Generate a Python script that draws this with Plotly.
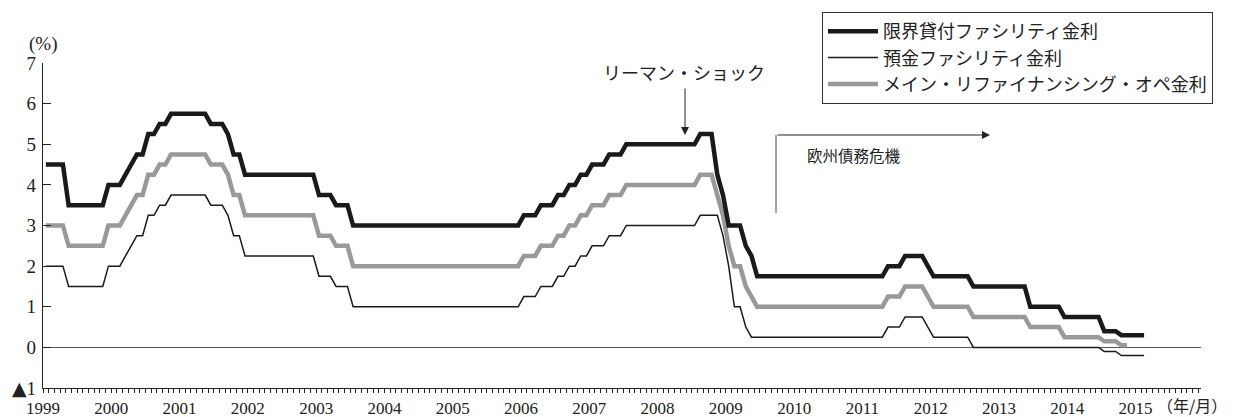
import plotly.graph_objects as go

# ---- data (monthly, Jan 1999 onward; value in effect at start of month) ----
years = ["1999", "2000", "2001", "2002", "2003", "2004", "2005", "2006", "2007",
         "2008", "2009", "2010", "2011", "2012", "2013", "2014", "2015"]

mlf = [  # 限界貸付ファシリティ金利
    4.5, 4.5, 4.5, 4.5, 3.5, 3.5, 3.5, 3.5, 3.5, 3.5, 3.5, 4.0,          # 1999
    4.0, 4.0, 4.25, 4.5, 4.75, 4.75, 5.25, 5.25, 5.5, 5.5, 5.75, 5.75,   # 2000
    5.75, 5.75, 5.75, 5.75, 5.75, 5.5, 5.5, 5.5, 5.25, 4.75, 4.75, 4.25, # 2001
    4.25, 4.25, 4.25, 4.25, 4.25, 4.25, 4.25, 4.25, 4.25, 4.25, 4.25, 4.25,  # 2002
    3.75, 3.75, 3.75, 3.5, 3.5, 3.5, 3.0, 3.0, 3.0, 3.0, 3.0, 3.0,       # 2003
    3.0, 3.0, 3.0, 3.0, 3.0, 3.0, 3.0, 3.0, 3.0, 3.0, 3.0, 3.0,          # 2004
    3.0, 3.0, 3.0, 3.0, 3.0, 3.0, 3.0, 3.0, 3.0, 3.0, 3.0, 3.0,          # 2005
    3.25, 3.25, 3.25, 3.5, 3.5, 3.5, 3.75, 3.75, 4.0, 4.0, 4.25, 4.25,   # 2006
    4.5, 4.5, 4.5, 4.75, 4.75, 4.75, 5.0, 5.0, 5.0, 5.0, 5.0, 5.0,       # 2007
    5.0, 5.0, 5.0, 5.0, 5.0, 5.0, 5.0, 5.25, 5.25, 5.25, 4.25, 3.75,     # 2008
    3.0, 3.0, 3.0, 2.5, 2.25, 1.75, 1.75, 1.75, 1.75, 1.75, 1.75, 1.75,  # 2009
    1.75, 1.75, 1.75, 1.75, 1.75, 1.75, 1.75, 1.75, 1.75, 1.75, 1.75, 1.75,  # 2010
    1.75, 1.75, 1.75, 1.75, 2.0, 2.0, 2.0, 2.25, 2.25, 2.25, 2.25, 2.0,  # 2011
    1.75, 1.75, 1.75, 1.75, 1.75, 1.75, 1.75, 1.5, 1.5, 1.5, 1.5, 1.5,   # 2012
    1.5, 1.5, 1.5, 1.5, 1.5, 1.0, 1.0, 1.0, 1.0, 1.0, 1.0, 0.75,         # 2013
    0.75, 0.75, 0.75, 0.75, 0.75, 0.75, 0.4, 0.4, 0.4, 0.3, 0.3, 0.3,    # 2014
    0.3, 0.3,                                                            # 2015
]

df_rate = [  # 預金ファシリティ金利
    2.0, 2.0, 2.0, 2.0, 1.5, 1.5, 1.5, 1.5, 1.5, 1.5, 1.5, 2.0,          # 1999
    2.0, 2.0, 2.25, 2.5, 2.75, 2.75, 3.25, 3.25, 3.5, 3.5, 3.75, 3.75,   # 2000
    3.75, 3.75, 3.75, 3.75, 3.75, 3.5, 3.5, 3.5, 3.25, 2.75, 2.75, 2.25, # 2001
    2.25, 2.25, 2.25, 2.25, 2.25, 2.25, 2.25, 2.25, 2.25, 2.25, 2.25, 2.25,  # 2002
    1.75, 1.75, 1.75, 1.5, 1.5, 1.5, 1.0, 1.0, 1.0, 1.0, 1.0, 1.0,       # 2003
    1.0, 1.0, 1.0, 1.0, 1.0, 1.0, 1.0, 1.0, 1.0, 1.0, 1.0, 1.0,          # 2004
    1.0, 1.0, 1.0, 1.0, 1.0, 1.0, 1.0, 1.0, 1.0, 1.0, 1.0, 1.0,          # 2005
    1.25, 1.25, 1.25, 1.5, 1.5, 1.5, 1.75, 1.75, 2.0, 2.0, 2.25, 2.25,   # 2006
    2.5, 2.5, 2.5, 2.75, 2.75, 2.75, 3.0, 3.0, 3.0, 3.0, 3.0, 3.0,       # 2007
    3.0, 3.0, 3.0, 3.0, 3.0, 3.0, 3.0, 3.25, 3.25, 3.25, 3.25, 2.75,     # 2008
    2.0, 1.0, 1.0, 0.5, 0.25, 0.25, 0.25, 0.25, 0.25, 0.25, 0.25, 0.25,  # 2009
    0.25, 0.25, 0.25, 0.25, 0.25, 0.25, 0.25, 0.25, 0.25, 0.25, 0.25, 0.25,  # 2010
    0.25, 0.25, 0.25, 0.25, 0.5, 0.5, 0.5, 0.75, 0.75, 0.75, 0.75, 0.5,  # 2011
    0.25, 0.25, 0.25, 0.25, 0.25, 0.25, 0.25, 0.0, 0.0, 0.0, 0.0, 0.0,   # 2012
    0.0, 0.0, 0.0, 0.0, 0.0, 0.0, 0.0, 0.0, 0.0, 0.0, 0.0, 0.0,          # 2013
    0.0, 0.0, 0.0, 0.0, 0.0, 0.0, -0.1, -0.1, -0.1, -0.2, -0.2, -0.2,    # 2014
    -0.2, -0.2,                                                          # 2015
]

mro = [  # メイン・リファイナンシング・オペ金利
    3.0, 3.0, 3.0, 3.0, 2.5, 2.5, 2.5, 2.5, 2.5, 2.5, 2.5, 3.0,          # 1999
    3.0, 3.0, 3.25, 3.5, 3.75, 3.75, 4.25, 4.25, 4.5, 4.5, 4.75, 4.75,   # 2000
    4.75, 4.75, 4.75, 4.75, 4.75, 4.5, 4.5, 4.5, 4.25, 3.75, 3.75, 3.25, # 2001
    3.25, 3.25, 3.25, 3.25, 3.25, 3.25, 3.25, 3.25, 3.25, 3.25, 3.25, 3.25,  # 2002
    2.75, 2.75, 2.75, 2.5, 2.5, 2.5, 2.0, 2.0, 2.0, 2.0, 2.0, 2.0,       # 2003
    2.0, 2.0, 2.0, 2.0, 2.0, 2.0, 2.0, 2.0, 2.0, 2.0, 2.0, 2.0,          # 2004
    2.0, 2.0, 2.0, 2.0, 2.0, 2.0, 2.0, 2.0, 2.0, 2.0, 2.0, 2.0,          # 2005
    2.25, 2.25, 2.25, 2.5, 2.5, 2.5, 2.75, 2.75, 3.0, 3.0, 3.25, 3.25,   # 2006
    3.5, 3.5, 3.5, 3.75, 3.75, 3.75, 4.0, 4.0, 4.0, 4.0, 4.0, 4.0,       # 2007
    4.0, 4.0, 4.0, 4.0, 4.0, 4.0, 4.0, 4.25, 4.25, 4.25, 3.75, 3.25,     # 2008
    2.5, 2.0, 2.0, 1.5, 1.25, 1.0, 1.0, 1.0, 1.0, 1.0, 1.0, 1.0,         # 2009
    1.0, 1.0, 1.0, 1.0, 1.0, 1.0, 1.0, 1.0, 1.0, 1.0, 1.0, 1.0,          # 2010
    1.0, 1.0, 1.0, 1.0, 1.25, 1.25, 1.25, 1.5, 1.5, 1.5, 1.5, 1.25,      # 2011
    1.0, 1.0, 1.0, 1.0, 1.0, 1.0, 1.0, 0.75, 0.75, 0.75, 0.75, 0.75,     # 2012
    0.75, 0.75, 0.75, 0.75, 0.75, 0.5, 0.5, 0.5, 0.5, 0.5, 0.5, 0.25,    # 2013
    0.25, 0.25, 0.25, 0.25, 0.25, 0.25, 0.15, 0.15, 0.15, 0.05, 0.05,    # 2014
]

names = ["限界貸付ファシリティ金利", "預金ファシリティ金利", "メイン・リファイナンシング・オペ金利"]
y_ticks = [-1, 0, 1, 2, 3, 4, 5, 6, 7]
y_ticktext = ["<span style=\"font-family:'DejaVu Sans';font-size:19px\">▲</span>1",
              "0", "1", "2", "3", "4", "5", "6", "7"]

# ---- figure ----
SERIF = "'Liberation Serif', 'DejaVu Serif', 'Noto Sans CJK JP', serif"
JP = "'Noto Sans CJK JP', sans-serif"
INK = "#222222"

def xs(series):
    return [i + 0.5 for i in range(len(series))]

fig = go.Figure()
fig.add_trace(go.Scatter(x=xs(mro), y=mro, mode="lines", name=names[2],
                         line=dict(color="#999999", width=4.5), legendrank=3))
fig.add_trace(go.Scatter(x=xs(mlf), y=mlf, mode="lines", name=names[0],
                         line=dict(color="#1a1a1a", width=4.5), legendrank=1))
fig.add_trace(go.Scatter(x=xs(df_rate), y=df_rate, mode="lines", name=names[1],
                         line=dict(color="#1a1a1a", width=1.5), legendrank=2))

# The page body adds an 8 px margin, so the figure is drawn 8 px smaller
# and all screen positions below are shifted by OFF.
OFF = 8
W, H = 1234 - OFF, 417 - OFF
L, T = 43 - OFF, 63 - OFF
R = W - (1201 - OFF)
B = H - (388 - OFF)
XMAX = 203.5
PW, PH = W - L - R, H - T - B

fig.update_layout(
    template="none",
    width=W, height=H,
    margin=dict(l=L, r=R, t=T, b=B, pad=0, autoexpand=False),
    paper_bgcolor="white", plot_bgcolor="white",
    font=dict(family=SERIF, size=17, color=INK),
    showlegend=True,
    legend=dict(
        x=(822 - OFF - L) / PW, y=1 + (T - (12 - OFF)) / PH,
        xanchor="left", yanchor="top",
        bordercolor="#333333", borderwidth=1, bgcolor="white",
        font=dict(family=JP, size=18, color=INK),
        itemwidth=50, traceorder="normal",
    ),
    xaxis=dict(
        range=[0, XMAX], showgrid=False, zeroline=False, automargin=False,
        showline=True, linecolor=INK, linewidth=1.2,
        tickmode="array", tickvals=[12 * i for i in range(len(years))], ticktext=years,
        ticks="outside", ticklen=4, tickcolor=INK, tickwidth=1,
        minor=dict(dtick=1, tick0=0, ticks="outside", ticklen=4, tickcolor=INK, tickwidth=1,
                   showgrid=False),
        tickfont=dict(family=SERIF, size=17, color=INK),
    ),
    yaxis=dict(
        range=[-1, 7], showgrid=False, automargin=False,
        zeroline=True, zerolinecolor="#555555", zerolinewidth=1,
        showline=True, linecolor=INK, linewidth=1.2,
        tickmode="array", tickvals=y_ticks, ticktext=y_ticktext,
        ticks="inside", ticklen=8, tickcolor=INK, tickwidth=1,
        ticklabelstandoff=2,
        tickfont=dict(family=SERIF, size=19, color=INK),
    ),
)

ppx = PW / XMAX          # pixels per month
ppy = PH / 8.0           # pixels per percentage point

def dx(px):   # screen pixel -> month position
    return (px - OFF - L) / ppx

def dy(py):   # screen pixel -> percent
    return 7 - (py - OFF - T) / ppy

annotations = [
    dict(text="(%)", xref="paper", yref="paper", x=0, y=1 + (T - (44 - OFF)) / PH,
         xanchor="center", yanchor="middle", showarrow=False,
         font=dict(family=SERIF, size=19, color=INK)),
    dict(text="（年/月）", xref="paper", yref="paper", x=(1155 - OFF - L) / PW, y=-17 / PH,
         xanchor="left", yanchor="middle", showarrow=False,
         font=dict(family=JP, size=16, color=INK)),
    dict(text="リーマン・ショック", xref="x", yref="y", x=dx(684), y=dy(72),
         xanchor="center", yanchor="middle", showarrow=False,
         font=dict(family=JP, size=18, color=INK)),
    dict(text="", xref="x", yref="y", axref="x", ayref="y",
         x=dx(685), y=dy(135), ax=dx(685), ay=dy(87),
         showarrow=True, arrowhead=2, arrowsize=1.6, arrowwidth=1, arrowcolor=INK),
    dict(text="", xref="x", yref="y", axref="x", ayref="y",
         x=dx(990), y=dy(135), ax=dx(776), ay=dy(135),
         showarrow=True, arrowhead=2, arrowsize=1.6, arrowwidth=1, arrowcolor=INK),
    dict(text="欧州債務危機", xref="x", yref="y", x=dx(805), y=dy(155),
         xanchor="left", yanchor="middle", showarrow=False,
         font=dict(family=JP, size=15.5, color=INK)),
]
fig.update_layout(annotations=annotations)
fig.add_shape(type="line", xref="x", yref="y", x0=dx(776), x1=dx(776), y0=dy(135), y1=dy(213),
              line=dict(color="#444444", width=1))

fig.write_html("out.html")
